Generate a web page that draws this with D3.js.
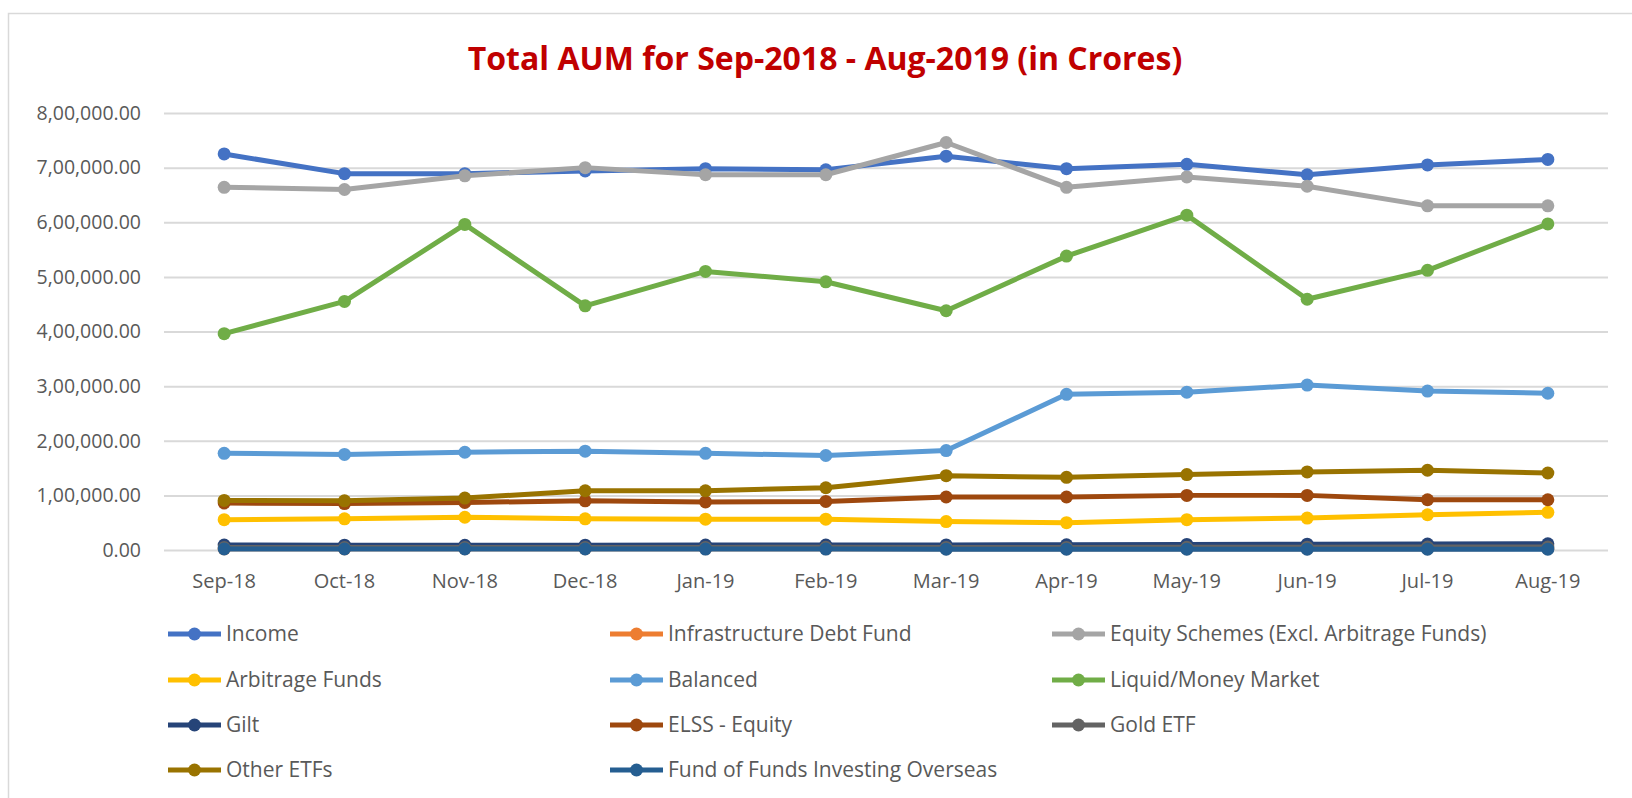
<!DOCTYPE html>
<html>
<head>
<meta charset="utf-8">
<script src="https://cdn.jsdelivr.net/npm/d3@7"></script>
<style>
  body { margin: 0; background: #fff; }
  svg { display: block; }
  .tick text { fill: #595959; font-family: 'Open Sans', sans-serif; }
</style>
</head>
<body>
<div id="chart"></div>
<script>
const months = ['Sep-18', 'Oct-18', 'Nov-18', 'Dec-18', 'Jan-19', 'Feb-19',
                'Mar-19', 'Apr-19', 'May-19', 'Jun-19', 'Jul-19', 'Aug-19'];

const yTicks = [0, 100000, 200000, 300000, 400000, 500000, 600000, 700000, 800000];

const seriesNames = ['Income', 'Infrastructure Debt Fund', 'Equity Schemes (Excl. Arbitrage Funds)',
  'Arbitrage Funds', 'Balanced', 'Liquid/Money Market', 'Gilt', 'ELSS - Equity', 'Gold ETF',
  'Other ETFs', 'Fund of Funds Investing Overseas'];

const income      = [725000, 689000, 689000, 694000, 698000, 696000, 721000, 698000, 706000, 687000, 705000, 715000];
const infraDebt   = [2200, 2200, 2300, 2300, 2300, 2400, 2400, 2400, 2500, 2500, 2500, 2600];
const equity      = [664000, 660000, 685000, 700000, 687000, 687000, 746000, 664000, 683000, 666000, 630000, 630000];
const arbitrage   = [55500, 57000, 60000, 57000, 56500, 56500, 52000, 50000, 55500, 58500, 64500, 69000];
const balanced    = [177000, 175000, 179000, 181000, 177000, 173000, 182000, 285000, 289000, 302000, 291000, 287000];
const liquid      = [396000, 455000, 596000, 447000, 510000, 491000, 438000, 538000, 613000, 459000, 512000, 597000];
const gilt        = [9000, 8800, 8700, 8900, 9100, 9200, 9300, 9600, 10200, 10600, 11000, 11400];
const elss        = [86000, 85000, 87000, 90000, 88000, 89000, 97000, 97000, 100000, 100000, 92000, 92000];
const goldEtf     = [4600, 4600, 4700, 4800, 4800, 4900, 4800, 4800, 4900, 5100, 5300, 5500];
const otherEtfs   = [90700, 90000, 95000, 108500, 108500, 114000, 136000, 133000, 138000, 143000, 146000, 141000];
const fofOverseas = [1900, 1800, 1800, 1800, 1700, 1700, 1600, 1600, 1500, 1500, 1500, 1500];

const seriesValues = [income, infraDebt, equity, arbitrage, balanced, liquid, gilt, elss, goldEtf, otherEtfs, fofOverseas];
const colors = ['#4472C4', '#ED7D31', '#A5A5A5', '#FFC000', '#5B9BD5', '#70AD47',
                '#264478', '#9E480E', '#636363', '#997300', '#255E91'];

const series = seriesNames.map((name, i) => ({ name, values: seriesValues[i], color: colors[i] }));

const svg = d3.select('#chart')
  .append('svg')
    .attr('width', 1632)
    .attr('height', 798);

// chart frame
svg.append('rect')
    .attr('x', 8.5)
    .attr('y', 13.5)
    .attr('width', 1640)
    .attr('height', 820)
    .attr('fill', 'none')
    .attr('stroke', '#d9d9d9')
    .attr('stroke-width', 1.5);

svg.append('text')
    .attr('x', 825)
    .attr('y', 70)
    .attr('text-anchor', 'middle')
    .attr('font-family', "'Liberation Sans Narrow', 'Open Sans', sans-serif")
    .attr('font-weight', 'bold')
    .attr('font-size', '32px')
    .attr('fill', '#C00000')
    .text('Total AUM for Sep-2018 - Aug-2019 (in Crores)');

const plotLeft = 164, plotRight = 1608, plotTop = 113, plotBottom = 550;

const x = d3.scaleBand()
    .domain(months)
    .range([plotLeft, plotRight]);

const y = d3.scaleLinear()
    .domain([0, 800000])
    .range([plotBottom, plotTop]);

function indianFormat(v) {
  const s = Math.round(v).toString();
  let out = s;
  if (s.length > 3) {
    const last3 = s.slice(-3);
    const rest = s.slice(0, -3).replace(/\B(?=(\d{2})+(?!\d))/g, ',');
    out = rest + ',' + last3;
  }
  return out + '.00';
}

// y axis with gridlines
svg.append('g')
    .attr('transform', `translate(${plotLeft},0)`)
    .call(d3.axisLeft(y).tickValues(yTicks).tickFormat(indianFormat).tickSize(-(plotRight - plotLeft)).tickPadding(23))
    .call(g => g.select('.domain').remove())
    .call(g => g.selectAll('.tick line').attr('stroke', '#d9d9d9').attr('stroke-width', 2))
    .call(g => g.selectAll('.tick text').attr('font-size', '19.5px'));

// x axis labels
svg.append('g')
    .attr('transform', `translate(0,${plotBottom})`)
    .call(d3.axisBottom(x).tickSize(0).tickPadding(24))
    .call(g => g.select('.domain').remove())
    .call(g => g.selectAll('.tick text').attr('font-size', '20px'));

const line = d3.line()
    .x((d, i) => x(months[i]) + x.bandwidth() / 2)
    .y(d => y(d));

const sg = svg.selectAll('.series')
  .data(series)
  .join('g')
    .attr('class', 'series');

sg.append('path')
    .attr('d', d => line(d.values))
    .attr('fill', 'none')
    .attr('stroke', d => d.color)
    .attr('stroke-width', 5)
    .attr('stroke-linejoin', 'round');

sg.selectAll('circle')
  .data(d => d.values.map((v, i) => ({ v, i, color: d.color })))
  .join('circle')
    .attr('cx', d => x(months[d.i]) + x.bandwidth() / 2)
    .attr('cy', d => y(d.v))
    .attr('r', 6.5)
    .attr('fill', d => d.color);

// legend
const legendCols = [168, 610, 1052];
const legendRows = [634, 680, 725, 770];

const lg = svg.selectAll('.legend')
  .data(series)
  .join('g')
    .attr('class', 'legend')
    .attr('transform', (d, i) => `translate(${legendCols[i % 3]},${legendRows[Math.floor(i / 3)]})`);

lg.append('line')
    .attr('x1', 0)
    .attr('x2', 53)
    .attr('stroke', d => d.color)
    .attr('stroke-width', 5);

lg.append('circle')
    .attr('cx', 26.5)
    .attr('r', 6.5)
    .attr('fill', d => d.color);

lg.append('text')
    .attr('x', 58)
    .attr('dy', '0.35em')
    .attr('font-family', "'Open Sans', sans-serif")
    .attr('font-size', '21px')
    .attr('fill', '#595959')
    .text(d => d.name);
</script>
</body>
</html>
